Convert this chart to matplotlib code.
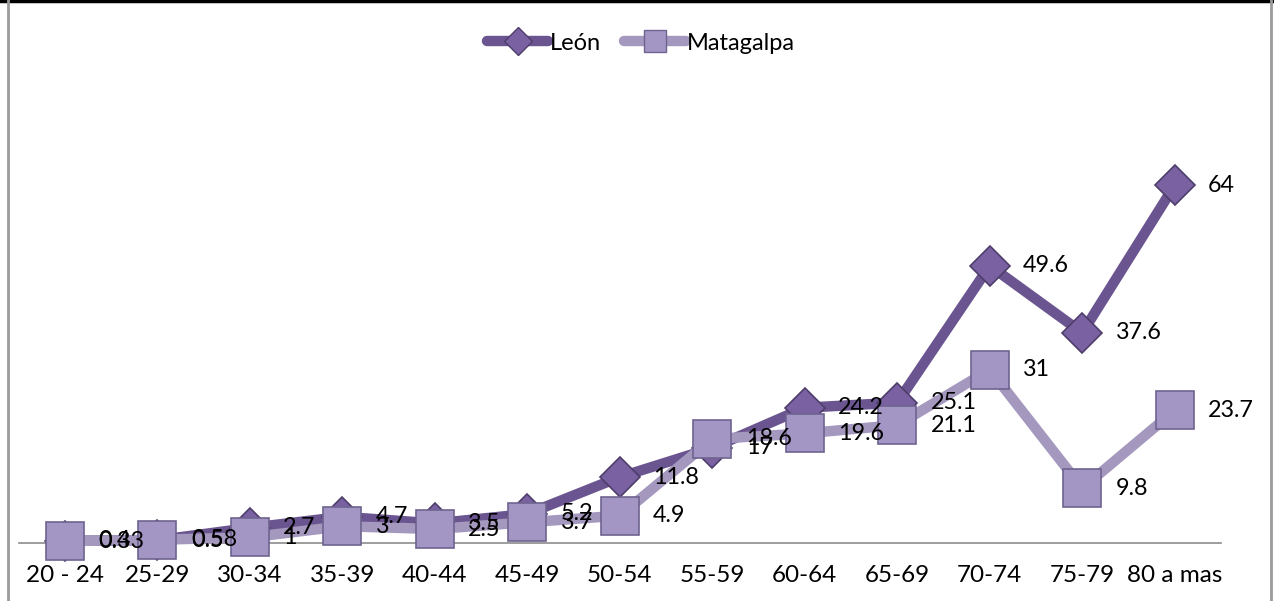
import matplotlib.pyplot as plt
from matplotlib.lines import Line2D

# grupos de edad y tasas por departamento
grupos = ["20 - 24", "25-29", "30-34", "35-39", "40-44", "45-49", "50-54",
          "55-59", "60-64", "65-69", "70-74", "75-79", "80 a mas"]
leon = [0.4, 0.5, 2.7, 4.7, 3.5, 5.2, 11.8, 17, 24.2, 25.1, 49.6, 37.6, 64]
matagalpa = [0.33, 0.58, 1, 3, 2.5, 3.7, 4.9, 18.6, 19.6, 21.1, 31, 9.8, 23.7]

color_leon = "#6b5590"
color_mat = "#a598be"

plt.rcParams['font.family'] = ['Lato', 'DejaVu Sans']

fig = plt.figure(figsize=(12.74, 6.01), dpi=100)
ax = fig.add_axes([18.75 / 1274, 1 - 543 / 601, (1221 - 18.75) / 1274, (543 - 151.6) / 601])

x = list(range(len(grupos)))

ax.plot(x, leon, color=color_leon, lw=7.5, solid_capstyle='round', zorder=2,
        marker='D', markersize=20, markerfacecolor="#7a62a2",
        markeredgecolor="#4e3d6b", markeredgewidth=1.2, clip_on=False)
ax.plot(x, matagalpa, color=color_mat, lw=7.5, solid_capstyle='round', zorder=3,
        marker='s', markersize=27, markerfacecolor="#a496c4",
        markeredgecolor="#6e6390", markeredgewidth=1.2, clip_on=False)

# etiquetas de valores a la derecha de cada punto
for i in x:
    ax.annotate(f"{leon[i]:g}", (i, leon[i]), xytext=(24, 0), textcoords='offset points',
                va='center', ha='left', fontsize=16.8, color='black', zorder=5)
    ax.annotate(f"{matagalpa[i]:g}", (i, matagalpa[i]), xytext=(24, 0), textcoords='offset points',
                va='center', ha='left', fontsize=16.8, color='black', zorder=5)

ax.set_xlim(-0.5, len(grupos) - 0.5)
ax.set_ylim(0, 70)
ax.set_xticks(x)
ax.set_xticklabels(grupos, fontsize=17.5)
ax.tick_params(axis='x', length=0, pad=16)
ax.set_yticks([])
for s in ['top', 'right', 'left']:
    ax.spines[s].set_visible(False)
ax.spines['bottom'].set_color('#8c8c8c')
ax.spines['bottom'].set_linewidth(1.2)
ax.spines['bottom'].set_zorder(1)

handles = [
    Line2D([], [], color=color_leon, lw=7.5, solid_capstyle='round', marker='D', markersize=14,
           markerfacecolor="#7a62a2", markeredgecolor="#4e3d6b"),
    Line2D([], [], color=color_mat, lw=7.5, solid_capstyle='round', marker='s', markersize=16,
           markerfacecolor="#a496c4", markeredgecolor="#6e6390"),
]
fig.legend(handles, ["León", "Matagalpa"], loc='center', bbox_to_anchor=(0.503, 1 - 43 / 601),
           ncol=2, frameon=False, fontsize=17, handlelength=2.6, handletextpad=0.05,
           columnspacing=1.0)

# marco del grafico
fig.add_artist(Line2D([0, 1272 / 1274], [1 - 1 / 601, 1 - 1 / 601], color='black', lw=2.5))
fig.add_artist(Line2D([8 / 1274, 8 / 1274], [0, 1], color='#9a9a9a', lw=2))
fig.add_artist(Line2D([1271 / 1274, 1271 / 1274], [0, 1], color='#9a9a9a', lw=2))

fig.savefig("out.png", dpi=100)
